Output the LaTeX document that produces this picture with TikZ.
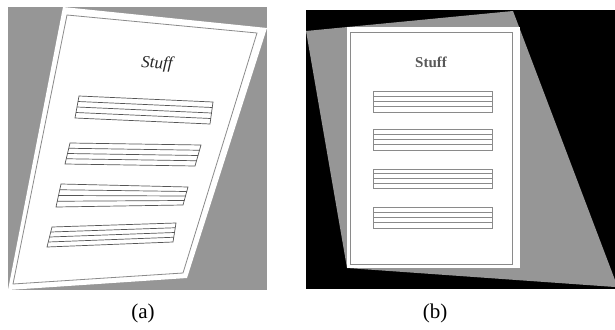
\documentclass[tikz,border=0pt]{standalone}
\usepackage{fontspec}
\setmainfont{Liberation Serif}
\usetikzlibrary{calc}
\definecolor{bggray}{HTML}{969696}
\definecolor{linegray}{HTML}{555555}
\definecolor{lightline}{HTML}{8A8A8A}
\tikzset{
  pageline/.style={draw=lightline, line width=0.8pt},
  staffA/.style={draw=linegray, line width=0.7pt},
  staffB/.style={draw=lightline, line width=0.7pt},
  caption/.style={font=\fontsize{21}{21}\selectfont, inner sep=0pt}
}
% \lineblock{style}{tl}{tr}{br}{bl}
\newcommand\lineblock[5]{%
  \draw[#1] (#2) -- (#3) -- (#4) -- (#5) -- cycle;
  \foreach \t in {0.25,0.5,0.75}{
    \draw[#1] ($(#2)!\t!(#5)$) -- ($(#3)!\t!(#4)$);
  }
}
\begin{document}
\begin{tikzpicture}[x=1pt,y=-1pt]
\useasboundingbox (0,0) rectangle (615,329);
\fill[white] (0,0) rectangle (615,329);
% ---------- panel (a)
\fill[bggray] (8,7) rectangle (267,290);
\fill[white] (63,7) -- (267,28) -- (187,278) -- (8,290) -- cycle;
\draw[pageline] (67,15) -- (257,33) -- (183,273) -- (13,284) -- cycle;
\node[font=\itshape\fontsize{17}{17}\selectfont, rotate=-3, text=black!85] (stuffa) at (157,64) {Stuff};
\lineblock{staffA}{79,96}{213,102}{210,124}{75,118}
\lineblock{staffA}{70,143}{201,145}{195,166}{65,164}
\lineblock{staffA}{61,184}{188,187}{183,205}{56,207}
\lineblock{staffA}{52,227}{176,223}{173,242}{47,247}
\node[caption] (capa) at (143,313) {(a)};
% ---------- panel (b)
\fill[black] (306,10) rectangle (615,289);
\fill[bggray] (306,31) -- (513,11) -- (615,280) -- (615,287) -- (347,268) -- cycle;
\fill[white] (347,27) -- (520,27) -- (520,268) -- (347,268) -- cycle;
\draw[pageline] (350,32) -- (512,32) -- (512,264) -- (350,264) -- cycle;
\node[font=\bfseries\fontsize{15}{15}\selectfont, text=black!65] (stuffb) at (431,62) {Stuff};
\lineblock{staffB}{373,91}{492,91}{492,112}{373,112}
\lineblock{staffB}{373,129}{492,129}{492,150}{373,150}
\lineblock{staffB}{373,169}{492,169}{492,188}{373,188}
\lineblock{staffB}{373,207}{492,207}{492,228}{373,228}
\node[caption] (capb) at (435,313) {(b)};
\end{tikzpicture}
\end{document}
